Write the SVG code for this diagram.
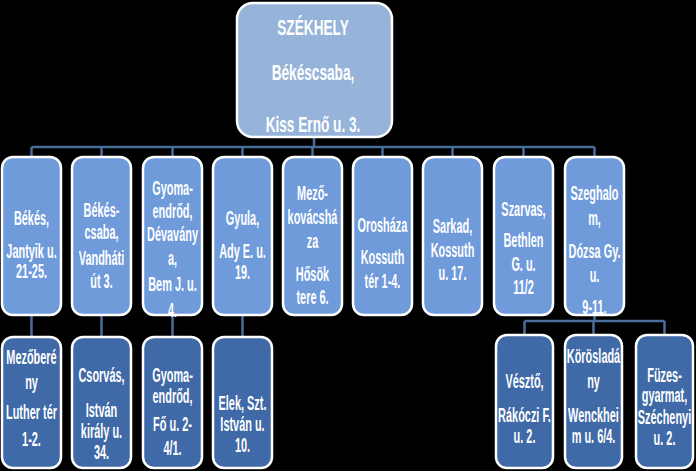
<svg xmlns="http://www.w3.org/2000/svg" width="696" height="471" viewBox="0 0 696 471">
<style>
.bg{fill:#000}
.top{fill:#96b4d9;stroke:#fff;stroke-width:2.5}
.mid{fill:#6f9bdb;stroke:#fff;stroke-width:2.5}
.low{fill:#3f69a7;stroke:#fff;stroke-width:2.5}
.c{fill:none;stroke:#4a6d9c;stroke-width:2.5}
text{font-family:"Liberation Sans",Arial,sans-serif;font-weight:bold;fill:#fff;text-anchor:middle}
.t1{font-size:22px}
.t2{font-size:19.5px}
</style>
<rect class="bg" x="0" y="0" width="696" height="471"/>
<g id="connectors">
<path class="c" d="M314 137V147M31.5 147H594.5M31.5 147V157M101.5 147V157M172.5 147V157M242.5 147V157M312.5 147V157M382.5 147V157M452.5 147V157M523.5 147V157M594.5 147V157"/>
<path class="c" d="M31.5 315V337M101.5 315V337M172.5 315V337M242.5 315V337"/>
<path class="c" d="M594.5 315V321M524.5 321H664.5M524.5 321V335M593.5 321V335M664.5 321V335"/>
</g>
<g id="szekhely">
<rect class="top" x="237" y="3" width="155" height="134" rx="16"/>
<g transform="translate(313,0) scale(0.62,1)" class="t1"><text x="0" y="35">SZÉKHELY</text><text x="0" y="80">Békéscsaba,</text><text x="0" y="132">Kiss Ernő u. 3.</text></g>
</g>
<g id="bekes">
<rect class="mid" x="2" y="157" width="59" height="158" rx="11"/>
<g transform="translate(31.5,0) scale(0.56,1)" class="t2"><text x="0" y="225">Békés,</text><text x="0" y="258">Jantyik u.</text><text x="0" y="278">21-25.</text></g>
</g>
<g id="bekescsaba">
<rect class="mid" x="72" y="157" width="59" height="158" rx="11"/>
<g transform="translate(101.5,0) scale(0.56,1)" class="t2"><text x="0" y="217">Békés-</text><text x="0" y="239">csaba,</text><text x="0" y="265">Vandháti</text><text x="0" y="288">út 3.</text></g>
</g>
<g id="gyomaendrod">
<rect class="mid" x="143" y="157" width="59" height="158" rx="11"/>
<g transform="translate(172.5,0) scale(0.56,1)" class="t2"><text x="0" y="195">Gyoma-</text><text x="0" y="218">endrőd,</text><text x="0" y="241">Dévavány</text><text x="0" y="265">a,</text><text x="0" y="291">Bem J. u.</text><text x="0" y="317">4.</text></g>
</g>
<g id="gyula">
<rect class="mid" x="213" y="157" width="59" height="158" rx="11"/>
<g transform="translate(242.5,0) scale(0.56,1)" class="t2"><text x="0" y="225">Gyula,</text><text x="0" y="258">Ady E. u.</text><text x="0" y="279">19.</text></g>
</g>
<g id="mezokovacshaza">
<rect class="mid" x="283" y="157" width="59" height="158" rx="11"/>
<g transform="translate(312.5,0) scale(0.56,1)" class="t2"><text x="0" y="200">Mező-</text><text x="0" y="224">kovácshá</text><text x="0" y="248">za</text><text x="0" y="281">Hősök</text><text x="0" y="304">tere 6.</text></g>
</g>
<g id="oroshaza">
<rect class="mid" x="353" y="157" width="59" height="158" rx="11"/>
<g transform="translate(382.5,0) scale(0.56,1)" class="t2"><text x="0" y="232">Orosháza</text><text x="0" y="264">Kossuth</text><text x="0" y="288">tér 1-4.</text></g>
</g>
<g id="sarkad">
<rect class="mid" x="423" y="157" width="59" height="158" rx="11"/>
<g transform="translate(452.5,0) scale(0.56,1)" class="t2"><text x="0" y="233">Sarkad,</text><text x="0" y="257">Kossuth</text><text x="0" y="280">u. 17.</text></g>
</g>
<g id="szarvas">
<rect class="mid" x="494" y="157" width="59" height="158" rx="11"/>
<g transform="translate(523.5,0) scale(0.56,1)" class="t2"><text x="0" y="216">Szarvas,</text><text x="0" y="247">Bethlen</text><text x="0" y="271">G. u.</text><text x="0" y="294">11/2</text></g>
</g>
<g id="szeghalom">
<rect class="mid" x="565" y="157" width="59" height="158" rx="11"/>
<g transform="translate(594.5,0) scale(0.56,1)" class="t2"><text x="0" y="200">Szeghalo</text><text x="0" y="225">m,</text><text x="0" y="258">Dózsa Gy.</text><text x="0" y="282">u.</text><text x="0" y="314">9-11.</text></g>
</g>
<g id="mezobereny">
<rect class="low" x="2" y="337" width="59" height="131" rx="11"/>
<g transform="translate(31.5,0) scale(0.56,1)" class="t2"><text x="0" y="364">Mezőberé</text><text x="0" y="389">ny</text><text x="0" y="419">Luther tér</text><text x="0" y="446">1-2.</text></g>
</g>
<g id="csorvas">
<rect class="low" x="72" y="337" width="59" height="131" rx="11"/>
<g transform="translate(101.5,0) scale(0.56,1)" class="t2"><text x="0" y="382">Csorvás,</text><text x="0" y="417">István</text><text x="0" y="438">király u.</text><text x="0" y="459">34.</text></g>
</g>
<g id="gyomaendrod2">
<rect class="low" x="143" y="337" width="59" height="131" rx="11"/>
<g transform="translate(172.5,0) scale(0.56,1)" class="t2"><text x="0" y="382">Gyoma-</text><text x="0" y="403">endrőd,</text><text x="0" y="431">Fő u. 2-</text><text x="0" y="455">4/1.</text></g>
</g>
<g id="elek">
<rect class="low" x="213" y="337" width="59" height="131" rx="11"/>
<g transform="translate(242.5,0) scale(0.56,1)" class="t2"><text x="0" y="410">Elek, Szt.</text><text x="0" y="431">István u.</text><text x="0" y="452">10.</text></g>
</g>
<g id="veszto">
<rect class="low" x="496" y="335" width="57" height="133" rx="11"/>
<g transform="translate(524.5,0) scale(0.56,1)" class="t2"><text x="0" y="388">Vésztő,</text><text x="0" y="422">Rákóczi F.</text><text x="0" y="443">u. 2.</text></g>
</g>
<g id="koroslada">
<rect class="low" x="565" y="335" width="57" height="133" rx="11"/>
<g transform="translate(593.5,0) scale(0.56,1)" class="t2"><text x="0" y="363">Körösladá</text><text x="0" y="388">ny</text><text x="0" y="422">Wenckhei</text><text x="0" y="443">m u. 6/4.</text></g>
</g>
<g id="fuzesgyarmat">
<rect class="low" x="636" y="335" width="57" height="133" rx="11"/>
<g transform="translate(664.5,0) scale(0.56,1)" class="t2"><text x="0" y="382">Füzes-</text><text x="0" y="402">gyarmat,</text><text x="0" y="424">Széchenyi</text><text x="0" y="445">u. 2.</text></g>
</g>
</svg>
